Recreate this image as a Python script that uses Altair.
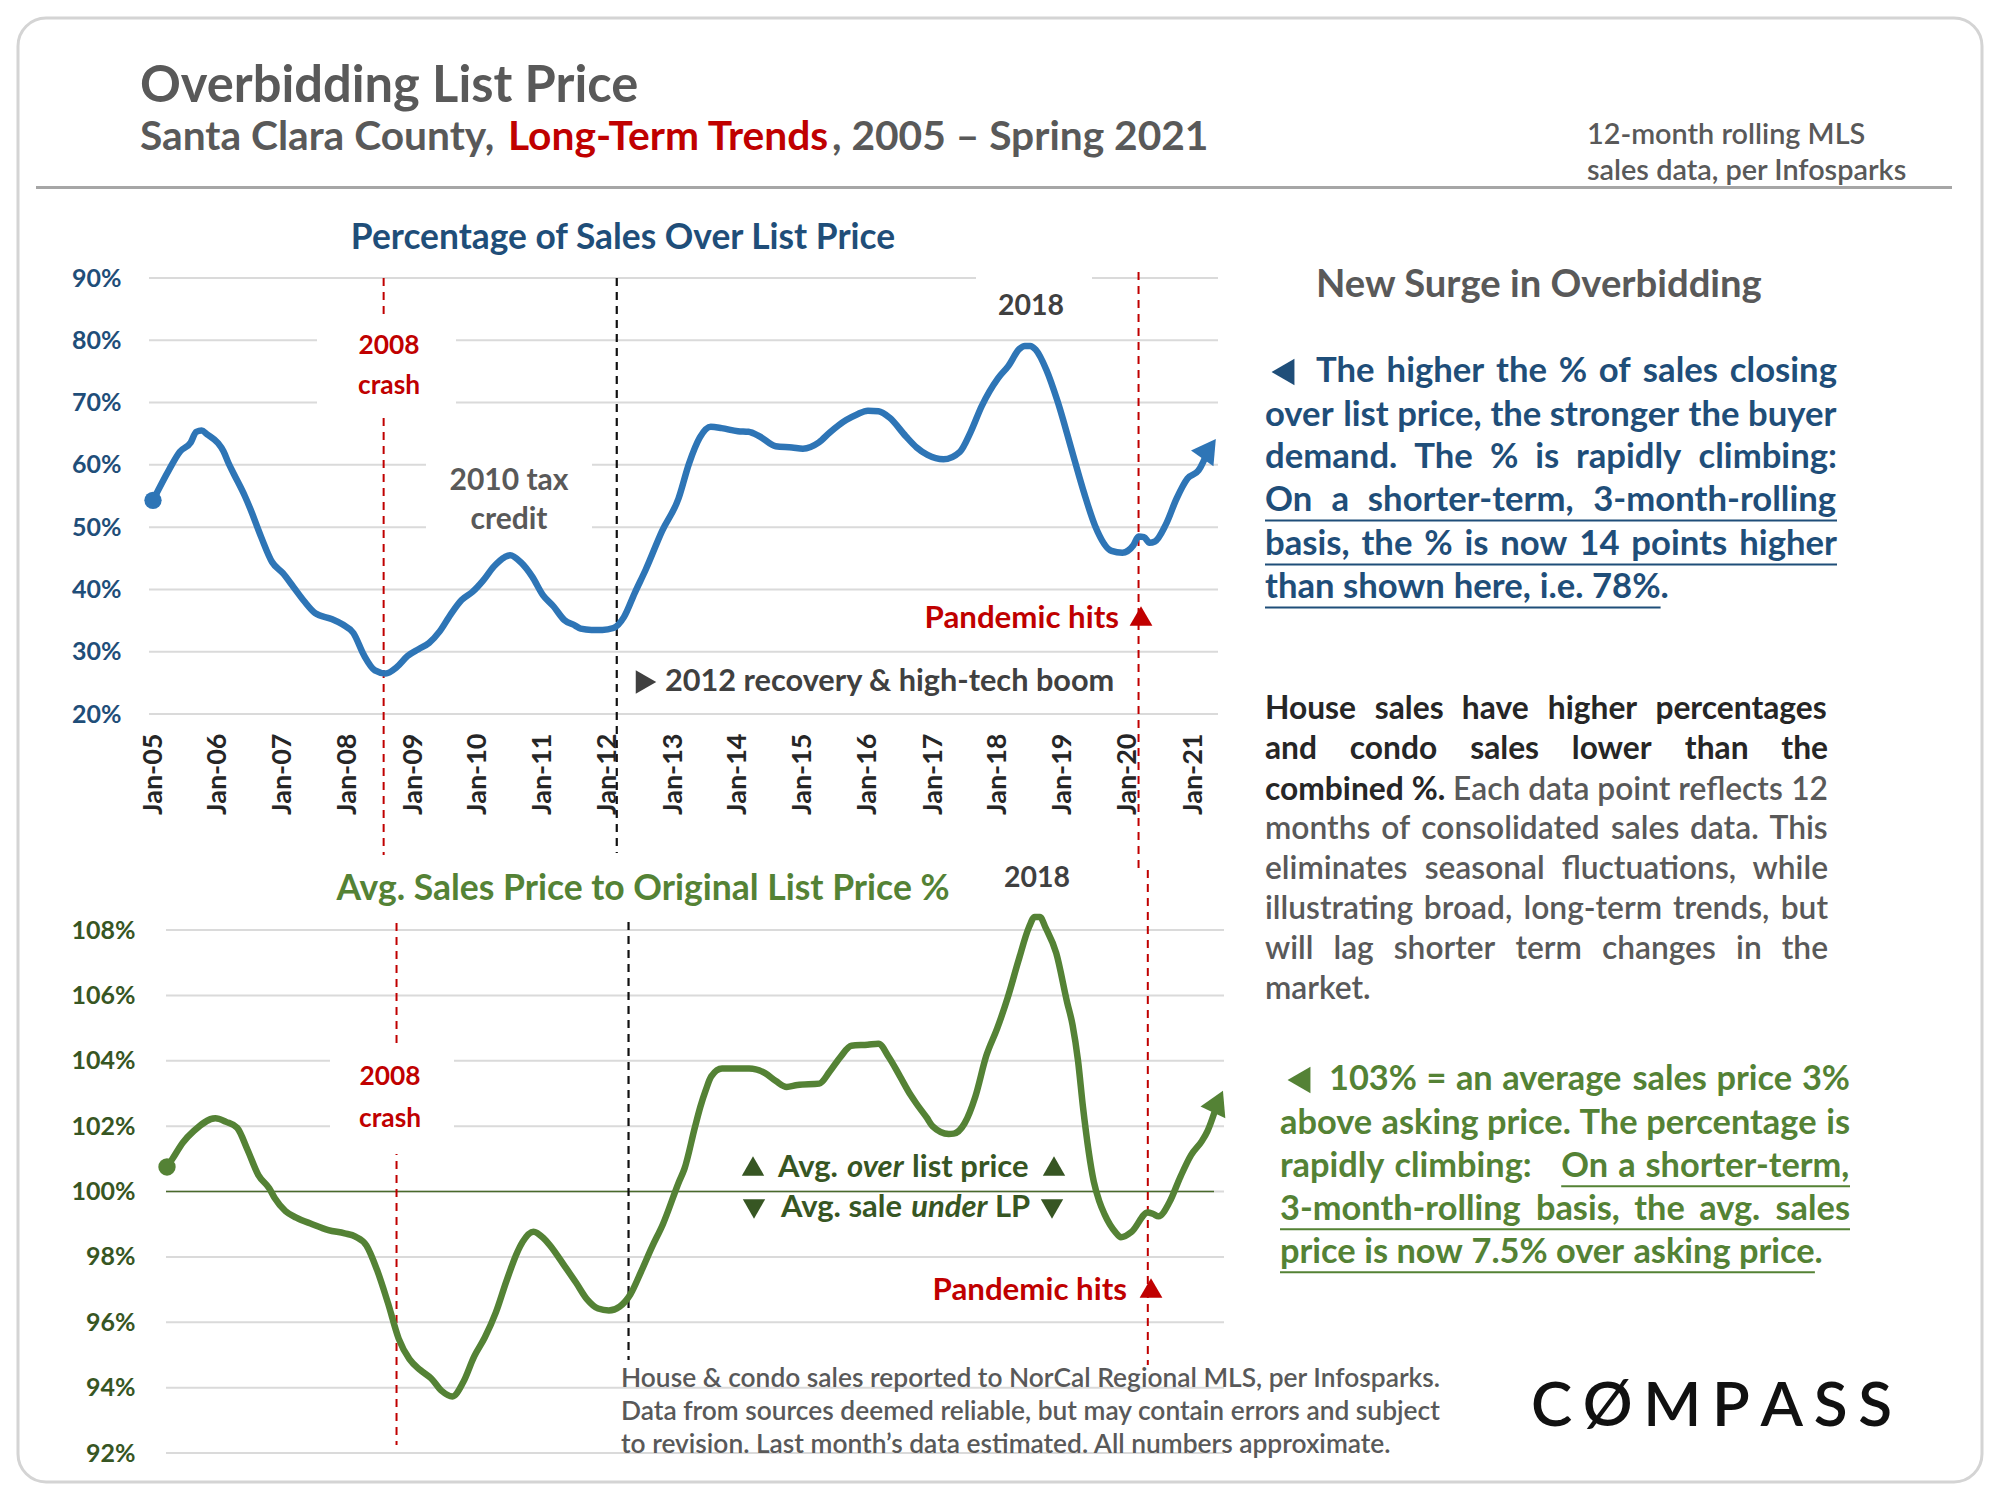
import os, glob, struct
import pandas as pd
import altair as alt

# ---------------- values ----------------
# months since Jan-2005 and the value at that month
top_months = [0, 3, 5, 7, 8, 9, 10, 12, 13, 14, 15, 17, 18, 20, 22, 24, 26, 28, 30, 33,
              35, 37, 39, 41, 43, 45, 47, 49, 51, 53, 55, 57, 59, 61, 63, 65, 66, 68, 70, 72,
              74, 76, 78, 79, 81, 83, 85, 87, 89, 91, 94, 97, 99, 101, 103, 105, 108, 110, 112, 115,
              118, 120, 123, 125, 128, 130, 132, 134, 136, 139, 141, 143, 146, 149, 151, 153, 156, 158, 160, 161,
              162, 163, 165, 167, 170, 172, 174, 177, 179, 181, 182, 183, 184, 185, 187, 189, 191, 193, 195]
top_values = [54.3, 59.2, 62.1, 63.6, 65.3, 65.5, 64.9, 63.5, 62.2, 60.3, 58.5, 55.0, 53.0, 48.4, 44.4, 42.6, 40.4, 38.1, 36.2, 35.25,
              34.4, 33.0, 29.4, 27.0, 26.5, 27.5, 29.3, 30.4, 31.4, 33.3, 36.0, 38.3, 39.6, 41.5, 43.7, 45.2, 45.5, 44.3, 42.1, 39.1,
              37.3, 35.1, 34.2, 33.7, 33.5, 33.5, 33.8, 35.6, 39.5, 43.2, 49.4, 54.6, 60.2, 64.4, 66.1, 65.9, 65.4, 65.3, 64.6, 63.0,
              62.8, 62.6, 63.6, 65.2, 67.2, 68.1, 68.7, 68.6, 67.6, 64.6, 62.8, 61.6, 60.9, 62.1, 65.3, 69.4, 73.9, 75.9, 78.6, 79.1,
              79.1, 78.5, 75.2, 70.3, 61.4, 55.4, 50.2, 46.2, 45.9, 47.1, 48.5, 48.4, 47.5, 47.7, 50.4, 54.6, 57.8, 59.1, 62.6]

bot_months = [0, 1, 3, 5, 9, 11, 13, 15, 17, 19, 20, 22, 24, 27, 30, 33, 35, 37, 39, 41,
              43, 45, 47, 49, 51, 53, 55, 57, 59, 61, 63, 65, 66, 68, 70, 71, 74, 76, 78, 80,
              82, 84, 86, 88, 90, 92, 95, 96, 98, 99, 100, 101, 103, 106, 108, 111, 113, 115, 117, 121,
              123, 125, 127, 130, 132, 134, 136, 138, 139, 141, 142, 145, 146, 148, 150, 152, 154, 156, 158, 160,
              161, 162, 163, 165, 167, 168, 169, 170, 172, 173, 174, 176, 177, 179, 182, 183, 184, 186, 188, 190,
              192, 193, 195]
bot_values = [100.75, 101.0, 101.5, 101.85, 102.24, 102.13, 101.95, 101.27, 100.5, 100.1, 99.8, 99.4, 99.2, 99.0, 98.82, 98.72, 98.62, 98.35, 97.6, 96.6,
              95.5, 94.87, 94.54, 94.28, 93.9, 93.73, 94.17, 94.95, 95.54, 96.3, 97.25, 98.13, 98.45, 98.77, 98.55, 98.37, 97.68, 97.2, 96.7, 96.42,
              96.36, 96.48, 96.85, 97.55, 98.3, 99.0, 100.3, 100.7, 101.97, 102.6, 103.1, 103.52, 103.76, 103.76, 103.76, 103.62, 103.38, 103.2, 103.26, 103.3,
              103.67, 104.12, 104.46, 104.49, 104.52, 104.1, 103.53, 102.95, 102.7, 102.25, 102.0, 101.76, 101.77, 102.08, 102.9, 104.15, 104.98, 105.95, 107.05, 108.1,
              108.4, 108.4, 108.08, 107.29, 105.8, 105.1, 104.0, 102.58, 100.3, 99.7, 99.3, 98.75, 98.6, 98.77, 99.36, 99.31, 99.24, 99.67, 100.45, 101.12,
              101.55, 101.85, 102.75]

top_ticks = [20, 30, 40, 50, 60, 70, 80, 90]
bot_ticks = [92, 94, 96, 98, 100, 102, 104, 106, 108]
year_ticks = list(range(2005, 2022))
event_crash = "2008-07-20"
event_recovery = "2012-02-20"
event_pandemic = "2020-03-01"

assert len(top_months) == len(top_values)
assert len(bot_months) == len(bot_values)


def month_to_date(m):
    return f"{2005 + m // 12}-{m % 12 + 1:02d}-01"


top_df = pd.DataFrame({"date": [month_to_date(m) for m in top_months], "value": top_values})
bot_df = pd.DataFrame({"date": [month_to_date(m) for m in bot_months], "value": bot_values})

# ---------------- font metrics (for placing text pieces) ----------------
FONT = "Lato"


def _font_index():
    files = []
    for root in ["/usr/share/fonts", "/usr/local/share/fonts",
                 os.path.expanduser("~/.fonts"), os.path.expanduser("~/.local/share/fonts")]:
        files += glob.glob(os.path.join(root, "**", "*"), recursive=True)
    out = {}
    for f in files:
        b = os.path.basename(f).lower().replace("-", "").replace("_", "").replace(" ", "")
        out.setdefault(b, f)
    return out


def _parse_font(path):
    with open(path, "rb") as fh:
        data = fh.read()
    off0 = struct.unpack(">I", data[12:16])[0] if data[:4] == b"ttcf" else 0
    ntab = struct.unpack(">H", data[off0 + 4:off0 + 6])[0]
    tabs = {}
    for i in range(ntab):
        rec = off0 + 12 + 16 * i
        tag = data[rec:rec + 4].decode("latin-1")
        toff = struct.unpack(">I", data[rec + 8:rec + 12])[0]
        tabs[tag] = toff
    upem = struct.unpack(">H", data[tabs["head"] + 18:tabs["head"] + 20])[0]
    nhm = struct.unpack(">H", data[tabs["hhea"] + 34:tabs["hhea"] + 36])[0]
    h = tabs["hmtx"]
    adv = [struct.unpack(">H", data[h + 4 * i:h + 4 * i + 2])[0] for i in range(nhm)]
    c = tabs["cmap"]
    nsub = struct.unpack(">H", data[c + 2:c + 4])[0]
    sub12 = sub4 = None
    for i in range(nsub):
        pid, eid, so = struct.unpack(">HHI", data[c + 4 + 8 * i:c + 12 + 8 * i])
        fmt = struct.unpack(">H", data[c + so:c + so + 2])[0]
        if fmt == 12 and sub12 is None:
            sub12 = c + so
        if fmt == 4 and sub4 is None and pid in (0, 3):
            sub4 = c + so

    def gid(cp):
        if sub12 is not None:
            ng = struct.unpack(">I", data[sub12 + 12:sub12 + 16])[0]
            for j in range(ng):
                s, e, g = struct.unpack(">III", data[sub12 + 16 + 12 * j:sub12 + 28 + 12 * j])
                if s <= cp <= e:
                    return g + cp - s
            return 0
        if sub4 is not None:
            o = sub4
            segx2 = struct.unpack(">H", data[o + 6:o + 8])[0]
            n = segx2 // 2
            ends = struct.unpack(">%dH" % n, data[o + 14:o + 14 + segx2])
            starts = struct.unpack(">%dH" % n, data[o + 16 + segx2:o + 16 + 2 * segx2])
            deltas = struct.unpack(">%dh" % n, data[o + 16 + 2 * segx2:o + 16 + 3 * segx2])
            rpos = o + 16 + 3 * segx2
            ros = struct.unpack(">%dH" % n, data[rpos:rpos + segx2])
            for i in range(n):
                if ends[i] >= cp:
                    if starts[i] > cp:
                        return 0
                    if ros[i] == 0:
                        return (cp + deltas[i]) & 0xFFFF
                    a = rpos + 2 * i + ros[i] + 2 * (cp - starts[i])
                    g = struct.unpack(">H", data[a:a + 2])[0]
                    return (g + deltas[i]) & 0xFFFF if g else 0
        return 0

    cache = {}

    def advance(ch):
        if ch not in cache:
            g = gid(ord(ch))
            cache[ch] = adv[min(g, nhm - 1)] / upem if g else None
        return cache[ch]
    return advance


def _approx(ch):
    if ch in "il.,:;!|'\u2019":
        return 0.26
    if ch in "fjrt()-/":
        return 0.36
    if ch == " ":
        return 0.2
    if ch in "mw":
        return 0.82
    if ch in "MW":
        return 0.9
    if ch.isdigit():
        return 0.58
    if ch == "%":
        return 0.83
    if ch.isupper():
        return 0.66
    return 0.53


_IDX = _font_index()
_WANT = {"b": ["latobold"], "sb": ["latosemibold", "latobold"], "r": ["latoregular"],
         "bi": ["latobolditalic", "latobold"]}
METRICS = {}
for k, names in _WANT.items():
    METRICS[k] = None
    for n in names:
        for ext in (".ttf", ".otf"):
            p = _IDX.get(n + ext)
            if p:
                try:
                    METRICS[k] = _parse_font(p)
                except Exception:
                    METRICS[k] = None
            if METRICS[k]:
                break
        if METRICS[k]:
            break


def W(text, size, key="b"):
    m = METRICS.get(key)
    tot = 0.0
    for ch in text:
        a = m(ch) if m else None
        tot += a if a is not None else _approx(ch)
    return tot * size


def fit(text, width, key="b"):
    return width / W(text, 1.0, key)


# ---------------- annotation helpers (page px -> chart px) ----------------
OFF = 8
TEXTS, TRIS, RULES, BOXES = [], [], [], []


def T(t, x, y, size, color, key="b", align="left", baseline="middle"):
    TEXTS.append(dict(text=t, x=x - OFF, y=y - OFF, size=round(size, 2), color=color,
                      key=key, align=align, baseline=baseline))


def TRI(x, y, shape, size, color):
    TRIS.append(dict(x=x - OFF, y=y - OFF, shape=shape, size=size, color=color))


def RULE(x1, x2, y, color, w):
    RULES.append(dict(x=x1 - OFF, x2=x2 - OFF, y=y - OFF, color=color, w=w))


def BOX(x1, y1, x2, y2):
    BOXES.append(dict(x=x1 - OFF, x2=x2 - OFF, y=y1 - OFF, y2=y2 - OFF))


def segs_place(segs, x, y, size, baseline="middle"):
    for text, key, color in segs:
        stripped = text.lstrip(" ")
        x += W(text[:len(text) - len(stripped)], size, key)
        body = stripped.rstrip(" ")
        if body:
            T(body, x, y, size, color, key, "left", baseline)
        x += W(stripped, size, key)
    return x


def wl(s, key, color):
    return [(w, key, color, 1) for w in s.split(" ")]


def para_size(lines, lefts, right):
    best = 1e9
    for i, words in enumerate(lines[:-1]):
        nat = sum(W(w[0], 1, w[1]) for w in words) + sum(w[3] for w in words[:-1]) * W(" ", 1, words[0][1])
        best = min(best, (right - lefts[i]) / nat)
    return best


def para(lines, lefts, right, ys, size):
    pos = []
    for i, words in enumerate(lines):
        left = lefts[i]
        ws = [W(w[0], size, w[1]) for w in words]
        gw = [w[3] for w in words[:-1]]
        if i == len(lines) - 1 or len(words) == 1:
            gap = W(" ", size, words[0][1])
        else:
            gap = (right - left - sum(ws)) / sum(gw)
        x = left
        spans = []
        for j, w in enumerate(words):
            T(w[0], x, ys[i], size, w[2], w[1])
            spans.append((x, x + ws[j]))
            x += ws[j] + (gap * gw[j] if j < len(gw) else 0)
        pos.append(spans)
    return pos


GRAY = "#595959"
DARK = "#404040"
RED = "#C00000"
BLUE_T = "#1F4E79"
GREEN_T = "#548235"
GREEN_D = "#375623"

# ---------------- header ----------------
t = "Overbidding List Price"
T(t, 140, 102, fit(t, 500), GRAY, "b", baseline="alphabetic")
sub_full = "Santa Clara County, Long-Term Trends, 2005 \u2013 Spring 2021"
s_sub = 1.015 * 1063 / W(sub_full, 1, "b")
T("Santa Clara County,", 140, 150, s_sub, GRAY, "b", baseline="alphabetic")
T("Long-Term Trends", 508, 150, s_sub, RED, "b", baseline="alphabetic")
T(", 2005 \u2013 Spring 2021", 832, 150, s_sub, GRAY, "b", baseline="alphabetic")
s_note = fit("sales data, per Infosparks", 321, "sb")
T("12-month rolling MLS", 1587, 144, s_note, GRAY, "sb", baseline="alphabetic")
T("sales data, per Infosparks", 1587, 180, s_note, GRAY, "sb", baseline="alphabetic")
RULE(36, 1952, 187.5, "#a6a6a6", 3)

# ---------------- top panel annotations ----------------
t = "Percentage of Sales Over List Price"
T(t, 623, 238, fit(t, 550), BLUE_T, align="center")
s_lab = fit("2008", 61)
BOX(317, 315, 456, 417)
T("2008", 389, 346, s_lab, RED, align="center")
T("crash", 389, 386, s_lab, RED, align="center")
BOX(426, 452, 592, 545)
s_tax = fit("2010 tax", 119)
T("2010 tax", 509, 481, s_tax, GRAY, align="center")
T("credit", 509, 520, s_tax, GRAY, align="center")
BOX(976, 268, 1092, 326)
s18 = fit("2018", 66)
T("2018", 1031, 306, s18, DARK, align="center")
s_pan = fit("Pandemic hits", 195)
T("Pandemic hits", 1119, 619, s_pan, RED, align="right")
TRI(1141, 616, "triangle-up", 520, RED)
t = "2012 recovery & high-tech boom"
T(t, 665, 682, fit(t, 452), DARK)
TRI(646, 682, "triangle-right", 560, DARK)

# ---------------- bottom panel annotations ----------------
t = "Avg. Sales Price to Original List Price %"
T(t, 643, 889, fit(t, 617), GREEN_T, align="center")
T("2018", 1037, 878, s18, DARK, align="center")
BOX(330, 1047, 454, 1154)
T("2008", 390, 1077, s_lab, RED, align="center")
T("crash", 390, 1119, s_lab, RED, align="center")
over = [("Avg. ", "b", GREEN_D), ("over", "bi", GREEN_D), (" list price", "b", GREEN_D)]
under = [("Avg. sale ", "b", GREEN_D), ("under", "bi", GREEN_D), (" LP", "b", GREEN_D)]
s_ou = (253 / sum(W(s[0], 1, s[1]) for s in over) + 247 / sum(W(s[0], 1, s[1]) for s in under)) / 2
segs_place(over, 778, 1168, s_ou)
segs_place(under, 781, 1208, s_ou)
TRI(753, 1166, "triangle-up", 500, GREEN_D)
TRI(1054, 1166, "triangle-up", 500, GREEN_D)
TRI(754, 1209, "triangle-down", 500, GREEN_D)
TRI(1052, 1209, "triangle-down", 500, GREEN_D)
T("Pandemic hits", 1127, 1291, s_pan, RED, align="right")
TRI(1151, 1288, "triangle-up", 520, RED)

# ---------------- right-hand text ----------------
t = "New Surge in Overbidding"
T(t, 1316, 286, fit(t, 449), GRAY)

linesA = [wl("The higher the % of sales closing", "b", BLUE_T),
          wl("over list price, the stronger the buyer", "b", BLUE_T),
          wl("demand. The % is rapidly climbing:", "b", BLUE_T),
          wl("On a shorter-term, 3-month-rolling", "b", BLUE_T),
          wl("basis, the % is now 14 points higher", "b", BLUE_T),
          wl("than shown here, i.e. 78%.", "b", BLUE_T)]
leftsA = [1316, 1265, 1265, 1265, 1265, 1265]
ysA = [372, 416, 458, 501, 545, 588]
sA = para_size(linesA, leftsA, 1837)
posA = para(linesA, leftsA, 1837, ysA, sA)
TRI(1283, 372, "triangle-left", 700, BLUE_T)
ul = 0.56 * sA
RULE(1265, 1837, ysA[3] + ul, BLUE_T, 2)
RULE(1265, 1837, ysA[4] + ul, BLUE_T, 2)
RULE(1265, posA[5][-1][0] + W("78%", sA, "b"), ysA[5] + ul, BLUE_T, 2)

BLK = "#262626"
linesB = [wl("House sales have higher percentages", "b", BLK),
          wl("and condo sales lower than the", "b", BLK),
          wl("combined %.", "b", BLK) + wl("Each data point reflects 12", "sb", GRAY),
          wl("months of consolidated sales data. This", "sb", GRAY),
          wl("eliminates seasonal fluctuations, while", "sb", GRAY),
          wl("illustrating broad, long-term trends, but", "sb", GRAY),
          wl("will lag shorter term changes in the", "sb", GRAY),
          wl("market.", "sb", GRAY)]
leftsB = [1265] * 8
ysB = [709, 749, 790, 829, 869, 909, 949, 989]
sB = para_size(linesB, leftsB, 1828)
para(linesB, leftsB, 1828, ysB, sB)

l3 = wl("rapidly climbing:", "b", GREEN_T)
l3[-1] = (l3[-1][0], "b", GREEN_T, 3)
linesC = [wl("103% = an average sales price 3%", "b", GREEN_T),
          wl("above asking price. The percentage is", "b", GREEN_T),
          l3 + wl("On a shorter-term,", "b", GREEN_T),
          wl("3-month-rolling basis, the avg. sales", "b", GREEN_T),
          wl("price is now 7.5% over asking price.", "b", GREEN_T)]
leftsC = [1329, 1280, 1280, 1280, 1280]
ysC = [1080, 1124, 1167, 1210, 1253]
sC = para_size(linesC, leftsC, 1850)
posC = para(linesC, leftsC, 1850, ysC, sC)
TRI(1299, 1080, "triangle-left", 700, GREEN_T)
ulc = 0.56 * sC
RULE(posC[2][2][0], 1850, ysC[2] + ulc, GREEN_T, 2)
RULE(1280, 1850, ysC[3] + ulc, GREEN_T, 2)
RULE(1280, posC[4][-1][0] + W("price", sC, "b"), ysC[4] + ulc, GREEN_T, 2)

# ---------------- footer + logo ----------------
foot = ["House & condo sales reported to NorCal Regional MLS, per Infosparks.",
        "Data from sources deemed reliable, but may contain errors and subject",
        "to revision. Last month\u2019s data estimated. All numbers approximate."]
s_f = fit(foot[1], 823, "sb")
for txt, yy in zip(foot, [1379, 1412, 1445]):
    T(txt, 621, yy, s_f, GRAY, "sb")
logo = "C\u00d8MPASS"
ls = 62
lw = [W(c, ls, "sb") for c in logo]
track = (1892 - 1531 - sum(lw)) / (len(logo) - 1)
xx = 1531
for ch, w in zip(logo, lw):
    T(ch, xx, 1407, ls, "#111111", "sb")
    xx += w + track

# ---------------- data panels ----------------
H = 1484
D0 = alt.DateTime(year=2005, month=1, date=1, utc=True)
D1 = alt.DateTime(year=2021, month=1, date=1, utc=True)
top_x = alt.Scale(type="utc", domain=[D0, D1], range=[153 - OFF, 1193 - OFF], nice=False)
top_y = alt.Scale(domain=[20, 90], range=[714 - OFF, 278 - OFF], zero=False, nice=False)
bot_x = alt.Scale(type="utc", domain=[D0, D1], range=[167 - OFF, 1202 - OFF], nice=False)
bot_y = alt.Scale(domain=[92, 108], range=[1453 - OFF, 930 - OFF], zero=False, nice=False)

top_x_axis = alt.Axis(orient="bottom", offset=(733 - OFF) - H, zindex=2,
                      values=[alt.DateTime(year=y, month=1, date=1, utc=True) for y in year_ticks],
                      format="%b-%y", labelAngle=270, labelPadding=0, ticks=False, tickSize=0,
                      domain=False, grid=False, title=None, labelFont=FONT, labelFontWeight="bold",
                      labelFontSize=27, labelColor="#262626", labelOverlap=False, labelFlush=False)
top_y_axis = alt.Axis(orient="left", offset=-(121 - OFF), values=top_ticks, labelExpr="datum.value + '%'",
                      zindex=2, labelPadding=0, ticks=False, tickSize=0, domain=False, grid=False, title=None,
                      labelFont=FONT, labelFontWeight="bold", labelFontSize=25, labelColor=BLUE_T,
                      labelOverlap=False, labelFlush=False)
bot_y_axis = alt.Axis(orient="left", offset=-(135 - OFF), values=bot_ticks, labelExpr="datum.value + '%'",
                      zindex=2, labelPadding=0, ticks=False, tickSize=0, domain=False, grid=False, title=None,
                      labelFont=FONT, labelFontWeight="bold", labelFontSize=25, labelColor=GREEN_D,
                      labelOverlap=False, labelFlush=False)

XT = alt.X("date:T", scale=top_x, axis=top_x_axis)
YT = alt.Y("value:Q", scale=top_y, axis=top_y_axis)
XB = alt.X("date:T", scale=bot_x, axis=None)
YB = alt.Y("value:Q", scale=bot_y, axis=bot_y_axis)


def ev_rule(date, X, y1, y2, color, dash, width):
    return alt.Chart(pd.DataFrame({"date": [date]})).mark_rule(
        color=color, strokeDash=dash, strokeWidth=width).encode(
        x=X, y=alt.value(y1 - OFF), y2=alt.value(y2 - OFF))


BLUE = "#2E75B6"
GREEN = "#548235"

grid_top = alt.Chart(pd.DataFrame({"value": top_ticks})).mark_rule(color="#dadada", strokeWidth=2).encode(
    y=YT, x=alt.value(149 - OFF), x2=alt.value(1218 - OFF))
line_top = alt.Chart(top_df).mark_line(color=BLUE, strokeWidth=6.5, interpolate="monotone").encode(x=XT, y=YT)
start_top = alt.Chart(top_df.iloc[[0]]).mark_point(filled=True, shape="circle", size=300, color=BLUE, opacity=1).encode(x=XT, y=YT)
end_top = alt.Chart(top_df.iloc[[-1]]).mark_point(filled=True, shape="triangle-up", size=750, angle=35, color=BLUE, opacity=1).encode(x=XT, y=YT)
top_panel = alt.layer(
    grid_top,
    ev_rule(event_crash, XT, 278, 855, RED, [8, 6], 2),
    ev_rule(event_recovery, XT, 278, 853, "#111111", [8, 6], 2.2),
    ev_rule(event_pandemic, XT, 272, 870, RED, [8, 6], 2),
    line_top, start_top, end_top)

grid_bot = alt.Chart(pd.DataFrame({"value": bot_ticks})).mark_rule(color="#dadada", strokeWidth=2).encode(
    y=YB, x=alt.value(166 - OFF), x2=alt.value(1224 - OFF))
rule100 = alt.Chart(pd.DataFrame({"value": [100]})).mark_rule(color="#4a6a2c", strokeWidth=1.6).encode(
    y=YB, x=alt.value(166 - OFF), x2=alt.value(1214 - OFF))
line_bot = alt.Chart(bot_df).mark_line(color=GREEN, strokeWidth=6.5, interpolate="monotone").encode(x=XB, y=YB)
start_bot = alt.Chart(bot_df.iloc[[0]]).mark_point(filled=True, shape="circle", size=300, color=GREEN, opacity=1).encode(x=XB, y=YB)
end_bot = alt.Chart(bot_df.iloc[[-1]]).mark_point(filled=True, shape="triangle-up", size=750, angle=25, color=GREEN, opacity=1).encode(x=XB, y=YB)
bot_panel = alt.layer(
    grid_bot, rule100,
    ev_rule(event_crash, XB, 923, 1445, RED, [8, 6], 2),
    ev_rule(event_recovery, XB, 922, 1360, "#111111", [8, 6], 2.2),
    ev_rule(event_pandemic, XB, 870, 1365, RED, [8, 6], 2),
    line_bot, start_bot, end_bot)

# ---------------- decoration layers ----------------
PX = dict(scale=None, axis=None)
card = alt.Chart(pd.DataFrame({"x": [18 - OFF], "x2": [1982 - OFF], "y": [18 - OFF], "y2": [1482 - OFF]})).mark_rect(
    fill="white", stroke="#d4d4d4", strokeWidth=3, cornerRadius=28).encode(
    x=alt.X("x:Q", **PX), x2="x2:Q", y=alt.Y("y:Q", **PX), y2="y2:Q")
boxes = alt.Chart(pd.DataFrame(BOXES)).mark_rect(color="white").encode(
    x=alt.X("x:Q", **PX), x2="x2:Q", y=alt.Y("y:Q", **PX), y2="y2:Q")
rules = alt.Chart(pd.DataFrame(RULES)).mark_rule().encode(
    x=alt.X("x:Q", **PX), x2="x2:Q", y=alt.Y("y:Q", **PX),
    color=alt.Color("color:N", scale=None, legend=None),
    strokeWidth=alt.StrokeWidth("w:Q", scale=None, legend=None))

tri_df = pd.DataFrame(TRIS)
tri_layers = []
for shp in sorted(tri_df["shape"].unique()):
    tri_layers.append(alt.Chart(tri_df[tri_df["shape"] == shp]).mark_point(
        filled=True, opacity=1, shape=shp, strokeWidth=0).encode(
        x=alt.X("x:Q", **PX), y=alt.Y("y:Q", **PX),
        size=alt.Size("size:Q", scale=None, legend=None),
        color=alt.Color("color:N", scale=None, legend=None)))

txt_df = pd.DataFrame(TEXTS)
WEIGHT = {"b": 700, "sb": 600, "r": 400, "bi": 700}
text_layers = []
for (k, a, b), g in txt_df.groupby(["key", "align", "baseline"]):
    text_layers.append(alt.Chart(g).mark_text(
        font=FONT, fontWeight=WEIGHT[k], fontStyle="italic" if k == "bi" else "normal",
        align=a, baseline=b).encode(
        x=alt.X("x:Q", **PX), y=alt.Y("y:Q", **PX), text="text:N",
        size=alt.Size("size:Q", scale=None, legend=None),
        color=alt.Color("color:N", scale=None, legend=None)))

chart = alt.layer(card, top_panel, bot_panel, boxes, rules, *tri_layers, *text_layers).resolve_scale(
    x="independent", y="independent").properties(
    width=1984, height=1484, autosize=alt.AutoSizeParams(type="none"), padding=0, background="white"
).configure_view(stroke="transparent")

chart.save("out.html", embed_options={"renderer": "svg", "actions": False})
